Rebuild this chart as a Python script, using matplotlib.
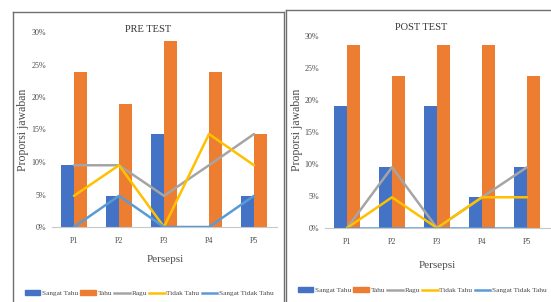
import numpy as np
import matplotlib
matplotlib.use("Agg")
import matplotlib.pyplot as plt
from matplotlib.lines import Line2D
from matplotlib.patches import Patch
from matplotlib.ticker import PercentFormatter

# data (proportions in %)
categories = ["P1", "P2", "P3", "P4", "P5"]
series_names = ["Sangat Tahu", "Tahu", "Ragu", "Tidak Tahu", "Sangat Tidak Tahu"]

pre_sangat_tahu = [9.5, 4.8, 14.3, 0.0, 4.8]
pre_tahu = [23.8, 19.0, 28.6, 23.8, 14.3]
pre_ragu = [9.5, 9.5, 4.8, 9.5, 14.3]
pre_tidak_tahu = [4.8, 9.5, 0.0, 14.3, 9.5]
pre_sangat_tidak_tahu = [0.0, 4.8, 0.0, 0.0, 4.8]

post_sangat_tahu = [19.0, 9.5, 19.0, 4.8, 9.5]
post_tahu = [28.6, 23.8, 28.6, 28.6, 23.8]
post_ragu = [0.0, 9.5, 0.0, 4.8, 9.5]
post_tidak_tahu = [0.0, 4.8, 0.0, 4.8, 4.8]
post_sangat_tidak_tahu = [0.0, 0.0, 0.0, 0.0, 0.0]

colors = ["#4472C4", "#ED7D31", "#A5A5A5", "#FFC000", "#5B9BD5"]
txt = "#4a4a4a"
plt.rcParams["font.family"] = ["Liberation Serif", "DejaVu Serif"]

W, H = 551, 302
fig = plt.figure(figsize=(W / 100, H / 100), dpi=100)


def fx(x):
    return x / W


def fy(y):
    return 1 - y / H


def panel(rect, title, bars, lines, title_xy, ylab_xy, xlab_xy, leg_xy):
    ax = fig.add_axes(rect)
    x = np.arange(len(categories))
    w = 0.28
    ax.bar(x - w / 2, np.array(bars[0]) / 100, w, color=colors[0], zorder=2)
    ax.bar(x + w / 2, np.array(bars[1]) / 100, w, color=colors[1], zorder=2)
    for vals, c in zip(lines, colors[2:]):
        ax.plot(x, np.array(vals) / 100, color=c, lw=1.8, zorder=3,
                solid_capstyle="round")
    ax.set_xlim(-0.5, len(categories) - 0.5)
    ax.set_ylim(0, 0.30)
    ax.set_yticks(np.arange(0, 0.31, 0.05))
    ax.yaxis.set_major_formatter(PercentFormatter(1.0, decimals=0))
    ax.set_xticks(x)
    ax.set_xticklabels(categories)
    for s in ["top", "right", "left"]:
        ax.spines[s].set_visible(False)
    ax.spines["bottom"].set_color("#C8C8C8")
    ax.tick_params(axis="both", length=0, labelsize=5.8, colors=txt)
    ax.tick_params(axis="x", pad=7)
    ax.tick_params(axis="y", pad=4)
    ax.set_facecolor("none")

    fig.text(fx(title_xy[0]), fy(title_xy[1]), title, ha="center", va="center",
             fontsize=7.5, color="#333333")
    fig.text(fx(ylab_xy[0]), fy(ylab_xy[1]), "Proporsi jawaban", ha="center",
             va="center", rotation=90, fontsize=8.5, color=txt)
    fig.text(fx(xlab_xy[0]), fy(xlab_xy[1]), "Persepsi", ha="center",
             va="center", fontsize=8, color=txt)

    handles = [Patch(color=colors[0]), Patch(color=colors[1])] + \
        [Line2D([0], [0], color=c, lw=1.8) for c in colors[2:]]
    fig.legend(handles, series_names, loc="center",
               bbox_to_anchor=(fx(leg_xy[0]), fy(leg_xy[1])), ncol=5,
               frameon=False, fontsize=5.2, handlelength=2.2, handleheight=0.6,
               handletextpad=0.2, columnspacing=0.3, labelcolor=txt,
               borderpad=0, borderaxespad=0)
    return ax


panel([fx(51.5), fy(227), fx(225), 195 / H], "PRE TEST",
      [pre_sangat_tahu, pre_tahu],
      [pre_ragu, pre_tidak_tahu, pre_sangat_tidak_tahu],
      (148, 29), (23, 130), (165, 260), (149, 293))

panel([fx(324.5), fy(228), fx(225), 192 / H], "POST TEST",
      [post_sangat_tahu, post_tahu],
      [post_ragu, post_tidak_tahu, post_sangat_tidak_tahu],
      (421, 27), (297, 130), (437, 265), (422, 290))

# panel frames
frame = dict(color="#707070", lw=1.0, transform=fig.transFigure)
fig.add_artist(Line2D([fx(13), fx(13)], [fy(12), fy(302)], **frame))
fig.add_artist(Line2D([fx(13), fx(284)], [fy(12), fy(12)], **frame))
fig.add_artist(Line2D([fx(284), fx(284)], [fy(12), fy(302)], **frame))
fig.add_artist(Line2D([fx(286), fx(286)], [fy(9.5), fy(302)], **frame))
fig.add_artist(Line2D([fx(286), fx(551)], [fy(9.5), fy(9.5)], **frame))

fig.savefig("out.png", dpi=100)
